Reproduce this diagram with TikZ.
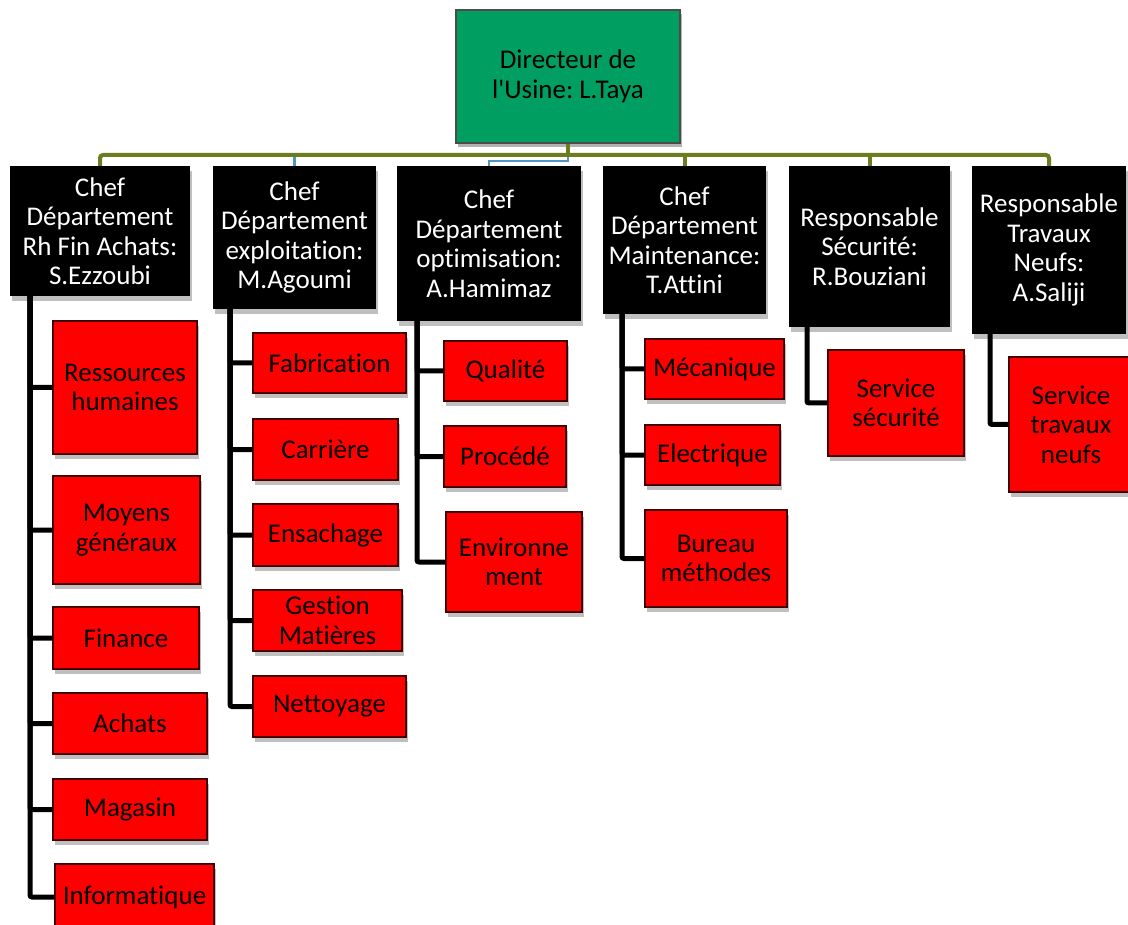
\documentclass[tikz,border=0pt]{standalone}
\usepackage{fontspec}
\setmainfont{Carlito}[Ligatures=NoCommon]
\usetikzlibrary{shadows}
\frenchspacing
\definecolor{dirgreen}{RGB}{0,158,96}
\definecolor{busolive}{RGB}{108,124,30}
\definecolor{linkblue}{RGB}{78,150,196}
\definecolor{boxred}{RGB}{255,0,0}
\definecolor{rededge}{RGB}{70,0,0}
\tikzset{
  boxfont/.style={font=\fontsize{27}{29.5}\selectfont},
  dirbox/.style={boxfont, fill=dirgreen, draw=black!70, line width=1.2pt,
    align=center, inner sep=0pt,
    drop shadow={shadow xshift=2pt, shadow yshift=-4pt, opacity=.3, fill=black}},
  chefbox/.style={boxfont, fill=black, text=white, align=center, inner sep=0pt,
    drop shadow={shadow xshift=2pt, shadow yshift=-5pt, opacity=.25, fill=black}},
  redbox/.style={boxfont, fill=boxred, draw=rededge, line width=1.5pt, text=black,
    align=center, inner sep=0pt,
    drop shadow={shadow xshift=2pt, shadow yshift=-5pt, opacity=.25, fill=black}},
  bus/.style={draw=busolive, line width=4pt, rounded corners=3pt},
  bluelink/.style={draw=linkblue, line width=2.2pt},
  link/.style={draw=black, line width=5pt, rounded corners=2pt}
}
\begin{document}
\begin{tikzpicture}[x=1pt,y=-1pt]
\useasboundingbox[fill=white] (0,0) rectangle (1128,925);

% Director
\node[dirbox, minimum width=224pt, minimum height=133pt] (dir) at (568,76.5)
  {Directeur de\\l\textquotesingle Usine: L.Taya};

% Heads of department
\node[chefbox, minimum width=180pt, minimum height=130pt] (c1) at (100,231)
  {Chef\\Département\\Rh Fin Achats:\\S.Ezzoubi};
\node[chefbox, minimum width=163pt, minimum height=143pt] (c2) at (294.5,237.5)
  {Chef\\Département\\exploitation:\\M.Agoumi};
\node[chefbox, minimum width=184pt, minimum height=155pt] (c3) at (489,243.5)
  {Chef\\Département\\optimisation:\\A.Hamimaz};
\node[chefbox, minimum width=163pt, minimum height=148pt] (c4) at (684.5,240)
  {Chef\\Département\\Maintenance:\\T.Attini};
\node[chefbox, minimum width=161pt, minimum height=161pt] (c5) at (869.5,246.5)
  {Responsable\\Sécurité:\\R.Bouziani};
\node[chefbox, minimum width=154pt, minimum height=168pt] (c6) at (1049,250)
  {Responsable\\Travaux\\Neufs:\\A.Saliji};

% Services
\node[redbox, minimum width=144pt, minimum height=133pt] (r11) at (125,387.5) {Ressources\\humaines};
\node[redbox, minimum width=147pt, minimum height=108pt] (r12) at (126.5,530) {Moyens\\généraux};
\node[redbox, minimum width=146pt, minimum height=62pt] (r13) at (126,638) {Finance};
\node[redbox, minimum width=154pt, minimum height=61pt] (r14) at (130,723.5) {Achats};
\node[redbox, minimum width=154pt, minimum height=61pt] (r15) at (130,809.5) {Magasin};
\node[redbox, minimum width=159pt, minimum height=66pt] (r16) at (134.5,897) {Informatique};

\node[redbox, minimum width=153pt, minimum height=60pt] (r21) at (329.5,363) {Fabrication};
\node[redbox, minimum width=145pt, minimum height=61pt] (r22) at (325.5,449.5) {Carrière};
\node[redbox, minimum width=145pt, minimum height=62pt] (r23) at (325.5,535) {Ensachage};
\node[redbox, minimum width=149pt, minimum height=61pt] (r24) at (327.5,620.5) {Gestion\\Matières};
\node[redbox, minimum width=153pt, minimum height=61pt] (r25) at (329.5,706.5) {Nettoyage};

\node[redbox, minimum width=123pt, minimum height=60pt] (r31) at (505.5,371) {Qualité};
\node[redbox, minimum width=122pt, minimum height=61pt] (r32) at (505,456.5) {Procédé};
\node[redbox, minimum width=136pt, minimum height=100pt] (r33) at (514,562) {Environne\\ment};

\node[redbox, minimum width=139pt, minimum height=60pt] (r41) at (714.5,369) {Mécanique};
\node[redbox, minimum width=135pt, minimum height=60pt] (r42) at (712.5,455) {Electrique};
\node[redbox, minimum width=142pt, minimum height=97pt] (r43) at (716,558.5) {Bureau\\méthodes};

\node[redbox, minimum width=136pt, minimum height=106pt] (r51) at (896,403) {Service\\sécurité};
\node[redbox, minimum width=124pt, minimum height=135pt] (r61) at (1071,424.5) {Service\\travaux\\neufs};

% Bus below the director
\coordinate (stem) at (568,155);
\draw[bluelink] (c2.north) -- (c2.north |- stem);
\draw[bluelink] (c3.north) |- ([yshift=-6pt]stem) -- (stem);
\draw[bus] (dir.south) -- (stem);
\draw[bus] (c1.north) |- (stem) -| (c6.north);
\draw[bus] (c4.north) -- (c4.north |- stem);
\draw[bus] (c5.north) -- (c5.north |- stem);

% Trunk positions under each head
\coordinate (k1) at (30,0);
\coordinate (k2) at (230,0);
\coordinate (k3) at (417,0);
\coordinate (k4) at (622,0);
\coordinate (k5) at (807,0);
\coordinate (k6) at (990,0);

\foreach \r in {r11,r12,r13,r14,r15,r16} \draw[link] (c1.south -| k1) |- (\r.west);
\foreach \r in {r21,r22,r23,r24,r25} \draw[link] (c2.south -| k2) |- (\r.west);
\foreach \r in {r31,r32,r33} \draw[link] (c3.south -| k3) |- (\r.west);
\foreach \r in {r41,r42,r43} \draw[link] (c4.south -| k4) |- (\r.west);
\draw[link] (c5.south -| k5) |- (r51.west);
\draw[link] (c6.south -| k6) |- (r61.west);
\end{tikzpicture}
\end{document}
